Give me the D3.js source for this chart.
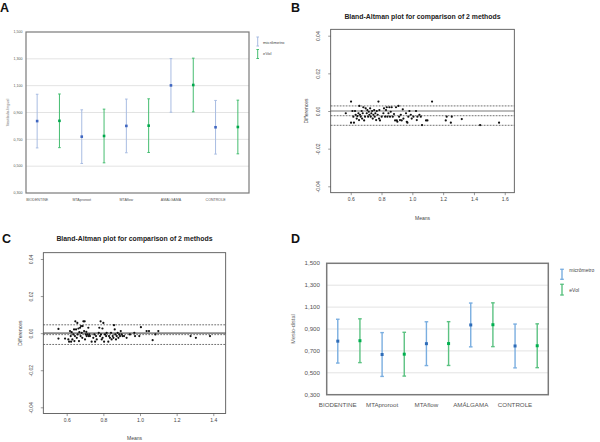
<!DOCTYPE html>
<html><head><meta charset="utf-8">
<script src="https://cdn.jsdelivr.net/npm/d3@7"></script>
<style>body{margin:0;background:#fff}svg{display:block}text{font-family:"Liberation Sans",Arial,sans-serif}</style>
</head><body>
<script>
// ---------- DATA ----------
const categories = ["BIODENTINE","MTAproroot","MTAflow","AMÁLGAMA","CONTROLE"];
const seriesNames = ["micrômetro","eVol"];
// Panel A (Vestibulo-lingual)
const vlMicrometro = [0.836, 0.720, 0.800, 1.102, 0.790];
const vlEvol       = [0.838, 0.725, 0.802, 1.105, 0.792];
const vlHalfRange  = [0.2, 0.2, 0.2, 0.2, 0.2];
// Panel D (Mesio-distal)
const mdMicrometro = [0.789, 0.667, 0.766, 0.937, 0.745];
const mdEvol       = [0.793, 0.670, 0.767, 0.939, 0.747];
const mdHalfRange  = [0.2, 0.2, 0.2, 0.2, 0.2];
const barTicks = [0.3, 0.5, 0.7, 0.9, 1.1, 1.3, 1.5];
const barTickLabels = ["0,300","0,500","0,700","0,900","1,100","1,300","1,500"];

// Panel B (Bland-Altman, Vestibulo-lingual)
const bMeans = [0.568,0.602,0.602,0.611,0.617,0.621,0.628,0.632,0.639,0.643,0.650,0.654,0.656,0.660,0.665,0.671,0.674,0.678,0.682,0.687,0.693,0.697,0.704,0.708,0.713,0.717,0.721,0.726,0.730,0.734,0.739,0.743,0.747,0.752,0.756,0.760,0.765,0.769,0.775,0.780,0.784,0.786,0.790,0.801,0.812,0.816,0.823,0.829,0.834,0.838,0.845,0.851,0.855,0.860,0.866,0.873,0.881,0.888,0.894,0.899,0.903,0.910,0.914,0.920,0.925,0.931,0.938,0.942,0.959,0.964,0.968,0.974,0.981,0.990,0.996,1.007,1.024,1.029,1.033,1.046,1.055,1.063,1.089,1.098,1.128,1.217,1.223,1.250,1.256,1.321,1.440,1.563];
const bDiffs = [-0.0012,0.0050,-0.0062,0.0000,-0.0030,-0.0062,0.0000,-0.0020,-0.0040,-0.0027,-0.0012,-0.0048,0.0027,-0.0020,-0.0030,0.0000,-0.0040,-0.0012,0.0020,-0.0050,-0.0030,0.0014,-0.0012,0.0005,-0.0030,-0.0004,-0.0020,0.0014,-0.0030,-0.0012,0.0000,-0.0040,-0.0020,0.0005,-0.0030,-0.0012,-0.0048,0.0000,-0.0020,0.0050,-0.0040,0.0005,-0.0050,-0.0030,-0.0012,0.0014,-0.0030,0.0005,0.0020,-0.0030,-0.0012,0.0020,-0.0030,-0.0004,0.0020,-0.0030,-0.0016,-0.0050,0.0020,-0.0050,-0.0057,0.0027,-0.0030,-0.0048,-0.0020,-0.0050,0.0009,-0.0040,-0.0012,-0.0057,-0.0062,-0.0030,0.0000,-0.0020,-0.0040,-0.0030,0.0000,-0.0048,-0.0030,-0.0020,-0.0030,-0.0075,-0.0050,-0.0050,0.0050,-0.0050,-0.0030,-0.0062,-0.0030,-0.0043,-0.0075,-0.0062];
const bLines = [0.0027, -0.0025, -0.0076]; // upper LoA, mean, lower LoA

// Panel C (Bland-Altman, Mesio-distal)
const cMeans = [0.555,0.555,0.591,0.609,0.613,0.618,0.622,0.624,0.627,0.631,0.636,0.640,0.642,0.645,0.647,0.651,0.655,0.658,0.660,0.664,0.667,0.669,0.673,0.676,0.678,0.682,0.685,0.687,0.691,0.695,0.698,0.700,0.704,0.707,0.709,0.713,0.718,0.720,0.724,0.727,0.736,0.745,0.751,0.755,0.760,0.764,0.775,0.778,0.782,0.785,0.787,0.791,0.795,0.796,0.800,0.804,0.809,0.815,0.818,0.827,0.831,0.836,0.842,0.845,0.851,0.855,0.858,0.862,0.865,0.869,0.873,0.878,0.882,0.887,0.891,0.895,0.900,0.905,0.913,0.927,0.945,0.969,0.973,0.996,1.005,1.036,1.049,1.069,1.084,1.100,1.276,1.305,1.382];
const cDiffs = [0.0023,-0.0029,-0.0029,-0.0034,-0.0046,0.0011,-0.0016,-0.0046,0.0005,-0.0034,-0.0007,0.0020,-0.0043,-0.0016,0.0064,0.0020,-0.0025,0.0055,-0.0007,0.0025,-0.0043,0.0005,0.0029,-0.0016,0.0038,0.0002,-0.0025,0.0038,0.0064,0.0011,0.0064,-0.0034,-0.0007,0.0007,-0.0016,-0.0007,0.0029,-0.0016,-0.0007,-0.0016,-0.0046,-0.0025,-0.0007,-0.0046,-0.0016,-0.0034,0.0002,0.0029,-0.0016,0.0064,-0.0007,-0.0034,0.0025,-0.0025,0.0055,-0.0046,-0.0007,-0.0016,0.0002,-0.0046,-0.0016,-0.0025,0.0002,-0.0034,-0.0016,-0.0025,0.0043,0.0020,-0.0007,-0.0034,-0.0016,0.0002,-0.0025,-0.0007,-0.0016,0.0011,-0.0007,-0.0016,-0.0016,-0.0025,-0.0007,0.0002,-0.0016,-0.0016,0.0032,0.0011,0.0011,-0.0038,-0.0007,0.0011,-0.0016,-0.0025,-0.0016];
const cLines = [0.0045, -0.0008, -0.0061];

const baYTicks = [-0.04, -0.02, 0, 0.02, 0.04];
const baYTickLabels = ["-0.04","-0.02","0.00","0.02","0.04"];
const bXTicks = [0.6, 0.8, 1.0, 1.2, 1.4, 1.6];
const bXTickLabels = ["0.6","0.8","1.0","1.2","1.4","1.6"];
const cXTicks = [0.6, 0.8, 1.0, 1.2, 1.4];
const cXTickLabels = ["0.6","0.8","1.0","1.2","1.4"];

// ---------- DRAW ----------
const svg = d3.select("body").append("svg").attr("width",600).attr("height",442);
svg.append("rect").attr("width",600).attr("height",442).attr("fill","#fff");

// panel letters
[["A",0,12],["B",291,12],["C",2,243],["D",291,243]].forEach(([t,x,y])=>{
  svg.append("text").attr("x",x).attr("y",y).text(t)
    .attr("font-size",12.5).attr("font-weight","bold").attr("fill","#111");
});

function errorPanel(o){
  const g = svg.append("g");
  const x = d3.scaleBand().domain(categories).range([o.left,o.right]);
  const xs = d3.scalePoint().domain(seriesNames).range([x.bandwidth()*0.25, x.bandwidth()*0.75]);
  const y = d3.scaleLinear().domain([0.3,1.5]).range([o.bottom,o.top]);
  g.selectAll(".grid").data(barTicks.slice(1,-1)).join("line")
    .attr("x1",o.left).attr("x2",o.right).attr("y1",d=>y(d)).attr("y2",d=>y(d))
    .attr("stroke","#e3e3e3").attr("stroke-width",1);
  g.selectAll(".yl").data(barTicks).join("text")
    .attr("x",o.ylabX).attr("y",d=>y(d)).attr("dy","0.35em").attr("text-anchor","end")
    .attr("font-size",o.tickFont).attr("fill","#555").text((d,i)=>barTickLabels[i]);
  g.selectAll(".xl").data(categories).join("text")
    .attr("x",d=>x(d)+xs(seriesNames[0])).attr("y",o.xlabY).attr("text-anchor","middle")
    .attr("font-size",o.xFont).attr("fill","#555").text(d=>d);
  g.append("text").attr("transform",`translate(${o.titleX},${(o.top+o.bottom)/2}) rotate(-90)`)
    .attr("text-anchor","middle").attr("font-size",o.titleFont).attr("fill","#666").text(o.ytitle);
  const sets = [
    {name:seriesNames[0], vals:o.s1, bar:o.c1bar, mark:o.c1mark},
    {name:seriesNames[1], vals:o.s2, bar:o.c2bar, mark:o.c2mark}];
  sets.forEach(s=>{
    const gg = g.append("g");
    categories.forEach((c,i)=>{
      const cx = x(c)+xs(s.name), v=s.vals[i], e=o.err[i];
      gg.append("line").attr("x1",cx).attr("x2",cx).attr("y1",y(v+e)).attr("y2",y(v-e))
        .attr("stroke",s.bar).attr("stroke-width",o.barW);
      [v+e,v-e].forEach(t=>gg.append("line").attr("x1",cx-o.cap).attr("x2",cx+o.cap)
        .attr("y1",y(t)).attr("y2",y(t)).attr("stroke",s.bar).attr("stroke-width",o.barW));
      gg.append("rect").attr("x",cx-o.mk/2).attr("y",y(v)-o.mk/2).attr("width",o.mk).attr("height",o.mk)
        .attr("fill",s.mark);
    });
  });
  g.append("rect").attr("x",o.left).attr("y",o.top).attr("width",o.right-o.left).attr("height",o.bottom-o.top)
    .attr("fill","none").attr("stroke","#7a7a7a").attr("stroke-width",o.frameW);
  sets.forEach((s,i)=>{
    const ly = o.legY[i];
    g.append("line").attr("x1",o.legX).attr("x2",o.legX).attr("y1",ly[0]).attr("y2",ly[1])
      .attr("stroke",s.bar).attr("stroke-width",o.barW);
    [ly[0],ly[1]].forEach(t=>g.append("line").attr("x1",o.legX-o.cap).attr("x2",o.legX+o.cap)
      .attr("y1",t).attr("y2",t).attr("stroke",s.bar).attr("stroke-width",o.barW));
    g.append("text").attr("x",o.legTX).attr("y",ly[2]).attr("dy","0.35em")
      .attr("font-size",o.legFont).attr("fill","#444").text(s.name);
  });
}

errorPanel({left:26,right:249,top:32,bottom:193,ylabX:22.5,xlabY:200.5,tickFont:3.6,xFont:3.6,
  titleX:8.5,titleFont:3.8,ytitle:"Vestibulo-lingual",s1:vlMicrometro,s2:vlEvol,err:vlHalfRange,
  c1bar:"#a8bce2",c1mark:"#3f66c0",c2bar:"#45bd70",c2mark:"#00a84c",barW:1,cap:1.3,mk:2.6,frameW:1.2,
  legX:257.7,legTX:263,legY:[[37,46,42],[49.5,58.5,53]],legFont:4.3});

errorPanel({left:326.7,right:548.3,top:263.3,bottom:394.7,ylabX:320,xlabY:407,tickFont:6.2,xFont:6.2,
  titleX:294.5,titleFont:5.5,ytitle:"Mesio-distal",s1:mdMicrometro,s2:mdEvol,err:mdHalfRange,
  c1bar:"#7aaee0",c1mark:"#2e6cb8",c2bar:"#5cc282",c2mark:"#00b050",barW:1.4,cap:1.8,mk:3,frameW:1.5,
  legX:562,legTX:569.3,legY:[[269.3,279.3,270.5],[284.3,295,290]],legFont:5});

function baPanel(o){
  const g = svg.append("g");
  const x = d3.scaleLinear().domain(o.xdom).range([o.left,o.right]);
  const y = d3.scaleLinear().domain([-0.0434,0.0434]).range([o.bottom,o.top]);
  const tc = "#444";
  g.append("text").attr("x",(o.left+o.right)/2).attr("y",o.titleY).attr("text-anchor","middle")
    .attr("font-size",6.9).attr("font-weight","bold").attr("fill","#222")
    .text("Bland-Altman plot for comparison of 2 methods");
  const xa = g.append("g").attr("transform",`translate(0,${o.bottom})`)
    .call(d3.axisBottom(x).tickValues(o.xticks).tickFormat((d,i)=>o.xlabels[i]).tickSize(2.5).tickSizeOuter(0).tickPadding(2));
  xa.select(".domain").remove();
  xa.selectAll("line").attr("stroke","#555").attr("stroke-width",0.6);
  xa.selectAll("text").attr("font-size",5).attr("fill",tc).attr("font-family","Liberation Sans, Arial, sans-serif");
  const ya = g.append("g").attr("transform",`translate(${o.left},0)`)
    .call(d3.axisLeft(y).tickValues(baYTicks).tickFormat((d,i)=>baYTickLabels[i]).tickSize(2.5).tickSizeOuter(0));
  ya.select(".domain").remove();
  ya.selectAll("line").attr("stroke","#555").attr("stroke-width",0.6);
  ya.selectAll("text").attr("font-size",5).attr("fill",tc).attr("font-family","Liberation Sans, Arial, sans-serif")
    .attr("x",null).attr("dy",null).attr("text-anchor","middle")
    .attr("transform","translate(-10.5,0) rotate(-90)").attr("y",0);
  g.append("text").attr("x",(o.left+o.right)/2).attr("y",o.xTitleY).attr("text-anchor","middle")
    .attr("font-size",5).attr("fill",tc).text("Means");
  g.append("text").attr("transform",`translate(${o.yTitleX},${y(0)}) rotate(-90)`).attr("text-anchor","middle")
    .attr("font-size",5).attr("fill",tc).text("Differences");
  g.append("line").attr("x1",o.left).attr("x2",o.right).attr("y1",y(0)).attr("y2",y(0))
    .attr("stroke",o.zeroC).attr("stroke-width",o.zeroW);
  g.selectAll(".dl").data(o.lines).join("line")
    .attr("x1",o.left).attr("x2",o.right).attr("y1",d=>y(d)).attr("y2",d=>y(d))
    .attr("stroke","#333").attr("stroke-width",0.7).attr("stroke-dasharray","1.8,1.2");
  g.selectAll(".pt").data(o.means).join("circle")
    .attr("cx",d=>x(d)).attr("cy",(d,i)=>y(o.diffs[i])).attr("r",1.1).attr("fill","#111");
  g.append("rect").attr("x",o.left).attr("y",o.top).attr("width",o.right-o.left).attr("height",o.bottom-o.top)
    .attr("fill","none").attr("stroke","#444").attr("stroke-width",0.8);
}

baPanel({left:330.7,right:514.3,top:29.3,bottom:192.7,xdom:[0.47,1.662],xticks:bXTicks,xlabels:bXTickLabels,
  titleY:19,xTitleY:220,yTitleX:308,means:bMeans,diffs:bDiffs,lines:bLines,zeroC:"#555",zeroW:0.8});
baPanel({left:43.3,right:225.7,top:252.7,bottom:413.6,xdom:[0.4723,1.4677],xticks:cXTicks,xlabels:cXTickLabels,
  titleY:241,xTitleY:439.5,yTitleX:21.5,means:cMeans,diffs:cDiffs,lines:cLines,zeroC:"#888",zeroW:1.6});
</script>
</body></html>
